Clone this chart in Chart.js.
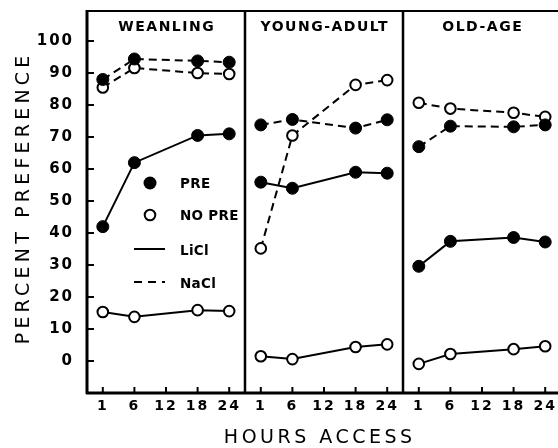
<!DOCTYPE html>
<html>
<head>
<meta charset="utf-8">
<script src="https://cdn.jsdelivr.net/npm/chart.js@4/dist/chart.umd.min.js"></script>
<style>
  html, body { margin: 0; background: #fff; overflow: hidden; }
  #wrap { width: 558px; height: 448px; overflow: hidden; }
  canvas { display: block; }
</style>
</head>
<body>
<div id="wrap"><canvas id="chart" width="564" height="448"></canvas></div>
<script>
// hour categories on the x axis (12 h has no data)
const hourLabels = ['1', '6', '12', '18', '24'];
const dataHours = ['1', '6', '18', '24'];
const panelNames = ['WEANLING', 'YOUNG-ADULT', 'OLD-AGE'];
const yTickValues = [0, 10, 20, 30, 40, 50, 60, 70, 80, 90, 100];

// percent preference
const weanPreLiCl = [42, 62, 70.5, 71];
const weanNoPreLiCl = [15.3, 13.8, 15.9, 15.6];
const weanPreNaCl = [88, 94.4, 93.8, 93.4];
const weanNoPreNaCl = [85.5, 91.6, 90, 89.7];

const youngPreLiCl = [55.9, 54, 59, 58.7];
const youngNoPreLiCl = [1.5, 0.6, 4.4, 5.2];
const youngPreNaCl = [73.8, 75.5, 72.8, 75.4];
const youngNoPreNaCl = [35.2, 70.5, 86.3, 87.8];

const oldPreLiCl = [29.6, 37.4, 38.6, 37.2];
const oldNoPreLiCl = [-0.9, 2.2, 3.7, 4.6];
const oldPreNaCl = [67, 73.4, 73.2, 73.8];
const oldNoPreNaCl = [80.7, 78.9, 77.6, 76.3];

const FONT = '"DejaVu Sans", sans-serif';

// each panel takes 5 slots on a linear x scale (0..15)
function slot(panel, hour) {
  return panel * 5 + hourLabels.indexOf(hour) + 0.5;
}

function series(panel, values, filled, dashed) {
  return {
    data: dataHours.map((h, i) => ({ x: slot(panel, h), y: values[i] })),
    borderColor: '#000',
    borderWidth: 2,
    borderDash: dashed ? [8, 5] : [],
    pointRadius: filled ? 6 : 5.3,
    pointBorderWidth: filled ? 1 : 2,
    pointBackgroundColor: filled ? '#000' : '#fff',
    pointBorderColor: '#000',
    order: filled ? 0 : 1,
    tension: 0
  };
}

const datasets = [
  series(0, weanPreLiCl, true, false),
  series(0, weanNoPreLiCl, false, false),
  series(0, weanPreNaCl, true, true),
  series(0, weanNoPreNaCl, false, true),
  series(1, youngPreLiCl, true, false),
  series(1, youngNoPreLiCl, false, false),
  series(1, youngPreNaCl, true, true),
  series(1, youngNoPreNaCl, false, true),
  series(2, oldPreLiCl, true, false),
  series(2, oldNoPreLiCl, false, false),
  series(2, oldPreNaCl, true, true),
  series(2, oldNoPreNaCl, false, true)
];

function spacedText(ctx, text, x, y, spacing) {
  ctx.letterSpacing = spacing + 'px';
  // trailing spacing would push centered text left, so shift back
  ctx.fillText(text, x + spacing / 2, y);
}

const figurePlugin = {
  id: 'figure',
  beforeDraw(chart) {
    chart.ctx.letterSpacing = '2px';
  },
  beforeDatasetsDraw(chart) {
    const ctx = chart.ctx;
    const a = chart.chartArea;
    const xs = chart.scales.x;
    const ys = chart.scales.y;
    ctx.save();
    ctx.strokeStyle = '#000';
    // frame
    ctx.lineWidth = 2;
    ctx.strokeRect(a.left, a.top, a.right - a.left, a.bottom - a.top);
    ctx.lineWidth = 3;
    ctx.beginPath();
    ctx.moveTo(a.left, a.top - 1);
    ctx.lineTo(a.left, a.bottom + 1);
    ctx.moveTo(a.left - 1, a.bottom);
    ctx.lineTo(a.right, a.bottom);
    ctx.stroke();
    // panel dividers
    ctx.lineWidth = 2.5;
    [5, 10].forEach(v => {
      const px = xs.getPixelForValue(v);
      ctx.beginPath();
      ctx.moveTo(px, a.top);
      ctx.lineTo(px, a.bottom);
      ctx.stroke();
    });
    // inward tick marks
    ctx.lineWidth = 2;
    ctx.beginPath();
    for (let i = 0; i < 15; i++) {
      const px = xs.getPixelForValue(i + 0.5);
      ctx.moveTo(px, a.bottom);
      ctx.lineTo(px, a.bottom - 6);
    }
    yTickValues.forEach(v => {
      const py = ys.getPixelForValue(v);
      ctx.moveTo(a.left, py);
      ctx.lineTo(a.left + 7, py);
    });
    ctx.stroke();
    ctx.restore();
  },
  afterDraw(chart) {
    const ctx = chart.ctx;
    const a = chart.chartArea;
    const xs = chart.scales.x;
    ctx.save();
    ctx.fillStyle = '#000';
    ctx.strokeStyle = '#000';
    ctx.textAlign = 'center';
    ctx.textBaseline = 'middle';

    // panel titles
    ctx.font = 'bold 14px ' + FONT;
    panelNames.forEach((name, p) => {
      const cx = (xs.getPixelForValue(p * 5) + xs.getPixelForValue(p * 5 + 5)) / 2;
      spacedText(ctx, name, cx, a.top + 16, 1.5);
    });

    // axis titles
    ctx.font = '19px ' + FONT;
    spacedText(ctx, 'HOURS ACCESS', 318, 438, 3.5);
    ctx.save();
    ctx.translate(24, 200);
    ctx.rotate(-Math.PI / 2);
    spacedText(ctx, 'PERCENT PREFERENCE', 0, 0, 4.2);
    ctx.restore();

    // legend inside the first panel
    const lx = a.left + 63;
    const tx = a.left + 93;
    ctx.lineWidth = 2;
    ctx.beginPath();
    ctx.arc(lx, 183, 6.5, 0, Math.PI * 2);
    ctx.fill();
    ctx.beginPath();
    ctx.arc(lx, 215, 5.3, 0, Math.PI * 2);
    ctx.fillStyle = '#fff';
    ctx.fill();
    ctx.stroke();
    ctx.fillStyle = '#000';
    ctx.beginPath();
    ctx.moveTo(lx - 16, 249);
    ctx.lineTo(lx + 15, 249);
    ctx.stroke();
    ctx.setLineDash([8, 6]);
    ctx.beginPath();
    ctx.moveTo(lx - 16, 282);
    ctx.lineTo(lx + 15, 282);
    ctx.stroke();
    ctx.setLineDash([]);

    ctx.font = 'bold 13.5px ' + FONT;
    ctx.textAlign = 'left';
    ctx.letterSpacing = '0.3px';
    ctx.fillText('PRE', tx, 184);
    ctx.fillText('NO PRE', tx, 216);
    ctx.fillText('LiCl', tx, 251);
    ctx.fillText('NaCl', tx, 284);
    ctx.restore();
  }
};

new Chart(document.getElementById('chart'), {
  type: 'line',
  data: { datasets: datasets },
  plugins: [figurePlugin],
  options: {
    responsive: false,
    animation: false,
    // canvas is a bit wider than the window: the right frame edge is cut off
    layout: { autoPadding: false, padding: { top: 11, right: 3, left: 0, bottom: 0 } },
    plugins: { legend: { display: false }, tooltip: { enabled: false } },
    scales: {
      x: {
        type: 'linear',
        min: 0,
        max: 15,
        afterFit: s => {
          s.height = 55;
          s.paddingLeft = 0;
          s.paddingRight = 0;
        },
        afterBuildTicks: s => {
          s.ticks = [];
          for (let i = 0; i < 15; i++) s.ticks.push({ value: i + 0.5 });
        },
        ticks: {
          autoSkip: false,
          maxRotation: 0,
          padding: 5,
          color: '#000',
          font: { family: FONT, size: 14, weight: 'bold' },
          callback: (v, i) => hourLabels[i % 5]
        },
        grid: { display: false, drawTicks: false },
        border: { display: false }
      },
      y: {
        min: -10,
        max: 109.4,
        afterFit: s => {
          s.width = 87;
          s.paddingTop = 0;
          s.paddingBottom = 0;
        },
        afterBuildTicks: s => {
          s.ticks = yTickValues.map(v => ({ value: v }));
        },
        ticks: {
          padding: 13,
          color: '#000',
          font: { family: FONT, size: 15, weight: 'bold' }
        },
        grid: { display: false, drawTicks: false },
        border: { display: false }
      }
    }
  }
});
</script>
</body>
</html>
